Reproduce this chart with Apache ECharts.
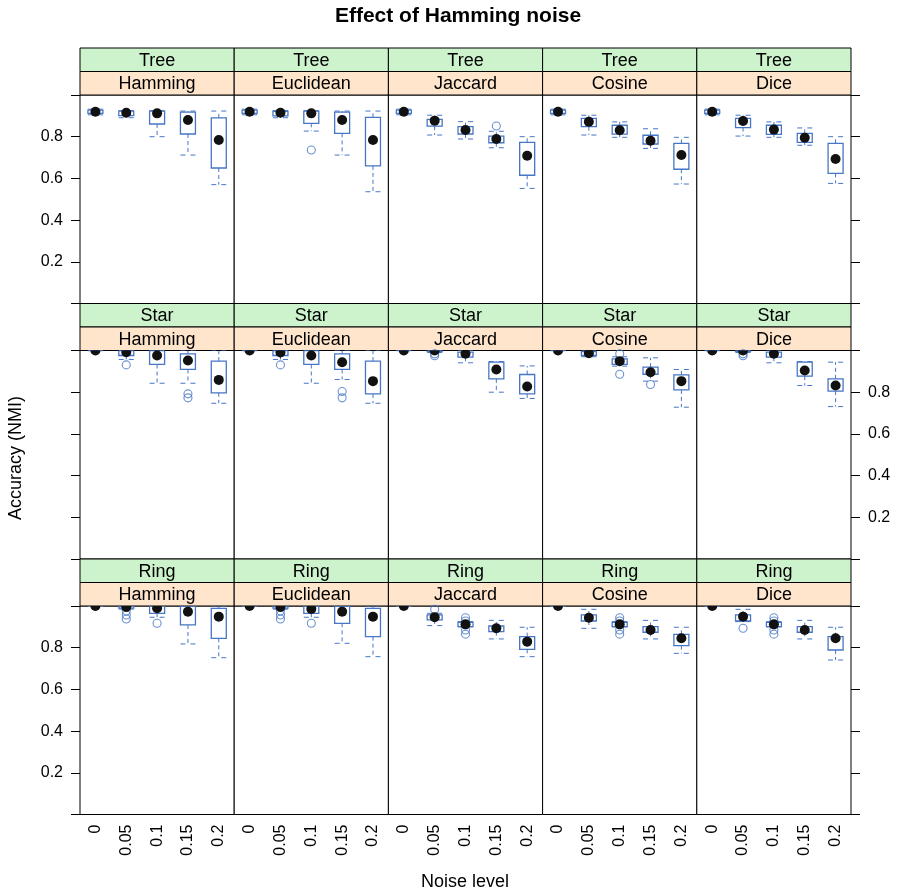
<!DOCTYPE html>
<html><head><meta charset="utf-8">
<script src="https://cdn.jsdelivr.net/npm/echarts@6/dist/echarts.min.js"></script>
<style>html,body{margin:0;padding:0;background:#fff}#c{width:900px;height:894px}</style>
</head><body><div id="c"></div>
<script>
// ---------- data ----------
const noiseLevels = ['0','0.05','0.1','0.15','0.2'];
const measures = ['Hamming','Euclidean','Jaccard','Cosine','Dice'];
const structures = ['Tree','Star','Ring'];
const yTicks = [0,0.2,0.4,0.6,0.8,1.0];

// box stats per noise level: [lower whisker, Q1, median, Q3, upper whisker]
const treeHamming   = [[0.905,0.912,0.920,0.927,0.932],[0.891,0.901,0.915,0.923,0.925],[0.800,0.861,0.912,0.923,0.925],[0.712,0.813,0.880,0.918,0.923],[0.570,0.650,0.784,0.890,0.923]];
const treeEuclidean = [[0.905,0.912,0.920,0.927,0.932],[0.891,0.900,0.915,0.922,0.925],[0.827,0.864,0.912,0.923,0.925],[0.712,0.816,0.880,0.918,0.923],[0.536,0.660,0.784,0.893,0.923]];
const treeJaccard   = [[0.905,0.912,0.920,0.927,0.932],[0.808,0.851,0.877,0.883,0.903],[0.789,0.813,0.832,0.848,0.872],[0.747,0.771,0.789,0.803,0.826],[0.552,0.615,0.709,0.773,0.800]];
const treeCosine    = [[0.905,0.912,0.920,0.927,0.932],[0.808,0.848,0.872,0.888,0.903],[0.797,0.812,0.831,0.855,0.871],[0.744,0.765,0.781,0.807,0.838],[0.573,0.644,0.712,0.768,0.797]];
const treeDice      = [[0.905,0.912,0.920,0.927,0.932],[0.803,0.844,0.875,0.888,0.903],[0.797,0.811,0.834,0.855,0.871],[0.759,0.773,0.795,0.816,0.842],[0.576,0.624,0.693,0.768,0.800]];

const starHamming   = [[1,1,1,1,1],[0.957,0.976,0.992,1.000,1.000],[0.843,0.933,0.976,1.000,1.000],[0.843,0.909,0.952,0.984,1.000],[0.747,0.797,0.859,0.949,1.000]];
const starEuclidean = [[1,1,1,1,1],[0.957,0.976,0.990,1.000,1.000],[0.843,0.933,0.976,1.000,1.000],[0.861,0.909,0.944,0.984,1.000],[0.747,0.792,0.853,0.949,1.000]];
const starJaccard   = [[1,1,1,1,1],[0.990,0.995,1.000,1.000,1.000],[0.941,0.968,0.984,0.992,1.000],[0.800,0.864,0.909,0.944,0.947],[0.770,0.792,0.827,0.885,0.926]];
const starCosine    = [[1,1,1,1,1],[0.970,0.976,0.987,0.995,1.000],[0.925,0.933,0.949,0.960,0.970],[0.853,0.886,0.896,0.920,0.965],[0.728,0.811,0.853,0.883,0.909]];
const starDice      = [[1,1,1,1,1],[0.990,0.995,1.000,1.000,1.000],[0.941,0.968,0.984,0.992,1.000],[0.832,0.877,0.904,0.944,0.947],[0.731,0.805,0.832,0.864,0.944]];

const ringHamming   = [[1,1,1,1,1],[0.985,0.990,0.995,1.000,1.000],[0.946,0.965,0.989,1.000,1.000],[0.818,0.909,0.973,1.000,1.000],[0.752,0.845,0.949,0.989,1.000]];
const ringEuclidean = [[1,1,1,1,1],[0.985,0.990,0.995,1.000,1.000],[0.946,0.965,0.986,1.000,1.000],[0.821,0.917,0.973,1.000,1.000],[0.757,0.853,0.949,0.989,1.000]];
const ringJaccard   = [[1,1,1,1,1],[0.906,0.933,0.946,0.957,0.965],[0.900,0.901,0.912,0.922,0.925],[0.842,0.877,0.893,0.904,0.931],[0.757,0.792,0.829,0.853,0.898]];
const ringCosine    = [[1,1,1,1,1],[0.893,0.928,0.944,0.957,0.984],[0.900,0.901,0.912,0.922,0.925],[0.842,0.874,0.885,0.901,0.931],[0.773,0.810,0.845,0.864,0.898]];
const ringDice      = [[1,1,1,1,1],[0.925,0.928,0.949,0.957,0.984],[0.900,0.901,0.912,0.922,0.925],[0.842,0.874,0.885,0.901,0.931],[0.741,0.789,0.845,0.853,0.898]];

// outliers: [noise level index, value]
const outTreeHamming = [];
const outTreeEuclidean = [[2,0.736]];
const outTreeJaccard = [[3,0.851]];
const outTreeCosine = [];
const outTreeDice = [];
const outStarHamming = [[1,0.931],[3,0.792],[3,0.773]];
const outStarEuclidean = [[1,0.931],[3,0.803],[3,0.773]];
const outStarJaccard = [[1,0.984],[1,0.975]];
const outStarCosine = [[2,0.984],[2,0.886],[3,0.837]];
const outStarDice = [[1,0.984],[1,0.975]];
const outRingHamming = [[1,0.976],[1,0.957],[1,0.938],[2,0.917]];
const outRingEuclidean = [[1,0.976],[1,0.957],[1,0.938],[2,0.917]];
const outRingJaccard = [[1,0.984],[2,0.944],[2,0.928],[2,0.885],[2,0.865]];
const outRingCosine = [[2,0.944],[2,0.928],[2,0.885],[2,0.865]];
const outRingDice = [[1,0.893],[2,0.944],[2,0.928],[2,0.885],[2,0.865]];

const boxData = [
  [treeHamming,treeEuclidean,treeJaccard,treeCosine,treeDice],
  [starHamming,starEuclidean,starJaccard,starCosine,starDice],
  [ringHamming,ringEuclidean,ringJaccard,ringCosine,ringDice]
];
const outData = [
  [outTreeHamming,outTreeEuclidean,outTreeJaccard,outTreeCosine,outTreeDice],
  [outStarHamming,outStarEuclidean,outStarJaccard,outStarCosine,outStarDice],
  [outRingHamming,outRingEuclidean,outRingJaccard,outRingCosine,outRingDice]
];

// ---------- layout / style ----------
const BOX = '#4676c6';
const FONT = '"Liberation Sans", Arial, sans-serif';
const panelLeft = 80, panelW = 154.2, panelH = 208.5, stripH = 23.5;
const panelTops = [95, 350.5, 606];

const grids=[], xAxes=[], yAxes=[], series=[], graphics=[];

function renderBox(params, api){
  const x = api.value(0);
  const lo = api.coord([x, api.value(1)]);
  const q1 = api.coord([x, api.value(2)]);
  const md = api.coord([x, api.value(3)]);
  const q3 = api.coord([x, api.value(4)]);
  const hi = api.coord([x, api.value(5)]);
  const cx = lo[0], hw = 7.5;
  const dash = {stroke: BOX, lineWidth: 1, lineDash: [4,3]};
  const capDash = {stroke: BOX, lineWidth: 1, lineDash: [5,5]};
  return {type:'group', children:[
    {type:'line', shape:{x1:cx,y1:q3[1],x2:cx,y2:hi[1]}, style:dash},
    {type:'line', shape:{x1:cx,y1:q1[1],x2:cx,y2:lo[1]}, style:dash},
    {type:'line', shape:{x1:cx-hw,y1:hi[1],x2:cx+hw,y2:hi[1]}, style:capDash},
    {type:'line', shape:{x1:cx-hw,y1:lo[1],x2:cx+hw,y2:lo[1]}, style:capDash},
    {type:'rect', shape:{x:cx-hw,y:q3[1],width:2*hw,height:q1[1]-q3[1]}, style:{stroke:BOX,lineWidth:1.3,fill:null}},
    {type:'circle', shape:{cx:cx,cy:md[1],r:5}, style:{fill:'#111'}}
  ]};
}

let idx = 0;
for (let r=0;r<3;r++){
  for (let c=0;c<5;c++){
    const left = panelLeft + c*panelW, top = panelTops[r];
    grids.push({left:left, top:top, width:panelW, height:panelH, show:true, borderColor:'#000', borderWidth:1, backgroundColor:'#fff', containLabel:false});
    xAxes.push({type:'category', gridIndex:idx, data:noiseLevels, boundaryGap:true,
      axisLine:{show:false}, axisTick:{show:false}, splitLine:{show:false},
      axisLabel:{show:r===2, rotate:90, fontSize:16, color:'#000', fontFamily:FONT, margin:10}});
    const side = (c===4) ? 'right' : 'left';
    const showTicks = (c===0 || c===4);
    const showLabels = (c===0 && r!==1) || (c===4 && r===1);
    yAxes.push({type:'value', gridIndex:idx, min:yTicks[0], max:yTicks[yTicks.length-1], interval:0.2, position:side,
      axisLine:{show:false}, splitLine:{show:false},
      axisTick:{show:showTicks, inside:false, length:9, lineStyle:{color:'#000', width:1}},
      axisLabel:{show:showLabels, fontSize:16, color:'#000', fontFamily:FONT, margin:17,
        formatter:v => (v<0.01 || v>0.99) ? '' : v.toFixed(1)}});
    series.push({type:'custom', xAxisIndex:idx, yAxisIndex:idx, clip:true, renderItem:renderBox,
      data: boxData[r][c].map((s,k)=>[k].concat(s)), z:3});
    series.push({type:'scatter', xAxisIndex:idx, yAxisIndex:idx, symbol:'circle', symbolSize:8,
      itemStyle:{color:'rgba(255,255,255,0)', borderColor:BOX, borderWidth:1.1},
      data: outData[r][c], z:2, silent:true});
    // strips
    graphics.push({type:'rect', shape:{x:left, y:top-2*stripH, width:panelW, height:stripH}, style:{fill:'#cdf3cd', stroke:'#000', lineWidth:1}, z:1});
    graphics.push({type:'text', x:left+panelW/2, y:top-1.5*stripH+1, style:{text:structures[r], font:'18px '+FONT, fill:'#000', align:'center', verticalAlign:'middle'}, z:2});
    graphics.push({type:'rect', shape:{x:left, y:top-stripH, width:panelW, height:stripH}, style:{fill:'#ffe5cc', stroke:'#000', lineWidth:1}, z:1});
    graphics.push({type:'text', x:left+panelW/2, y:top-0.5*stripH+1, style:{text:measures[c], font:'18px '+FONT, fill:'#000', align:'center', verticalAlign:'middle'}, z:2});
    idx++;
  }
}
graphics.push({type:'text', x:458, y:16, style:{text:'Effect of Hamming noise', font:'bold 21px '+FONT, fill:'#000', align:'center', verticalAlign:'middle'}});
graphics.push({type:'text', x:465, y:882, style:{text:'Noise level', font:'18px '+FONT, fill:'#000', align:'center', verticalAlign:'middle'}});
graphics.push({type:'text', x:16, y:458, rotation:Math.PI/2, style:{text:'Accuracy (NMI)', font:'18px '+FONT, fill:'#000', align:'center', verticalAlign:'middle'}});

const chart = echarts.init(document.getElementById('c'), null, {renderer:'canvas'});
chart.setOption({animation:false, backgroundColor:'#fff', grid:grids, xAxis:xAxes, yAxis:yAxes, series:series, graphic:graphics});
</script></body></html>
